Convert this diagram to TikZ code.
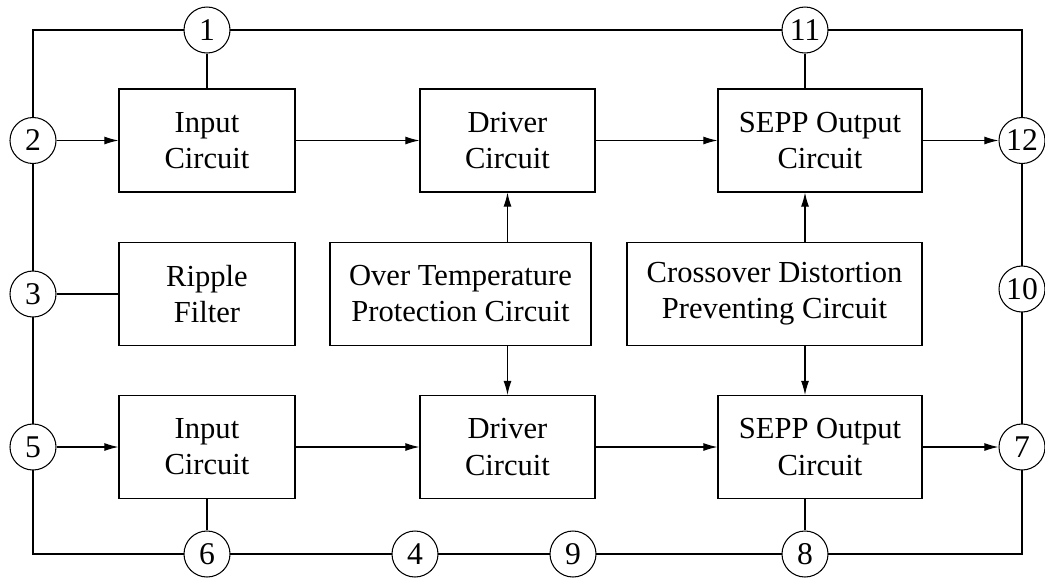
\documentclass[tikz,border=0pt]{standalone}
\usepackage{fontspec}
\setmainfont{Liberation Serif}
\usetikzlibrary{arrows.meta}
\usetikzlibrary{calc}
\tikzset{>={Latex[length=8pt,width=4.5pt]}}
\tikzset{
  block/.style={draw, semithick, align=center, minimum height=2.06cm, inner sep=2pt,
    font=\fontsize{17.4}{20.5}\selectfont},
  terminal/.style={draw, semithick, circle, fill=white, minimum size=0.92cm, inner sep=0pt,
    font=\fontsize{18}{20}\selectfont}
}

\begin{document}
\begin{tikzpicture}
            \useasboundingbox (0, 0) rectangle (20.9, -11.62);
            % outer wiring
            \draw[semithick] (0.66, -0.6) rectangle (20.44, -11.08);
            % blocks
            \node[block, minimum width=3.52cm] (in1) at (4.14, -2.81) {Input\\Circuit};
            \node[block, minimum width=3.5cm] (drv1) at (10.15, -2.81) {Driver\\Circuit};
            \node[block, minimum width=4.08cm] (sepp1) at (16.4, -2.81) {SEPP Output\\Circuit};
            \node[block, minimum width=3.52cm] (rip) at (4.14, -5.88) {Ripple\\Filter};
            \node[block, minimum width=5.22cm] (otp) at (9.21, -5.88) {Over Temperature\\Protection Circuit};
            \node[block, minimum width=5.9cm] (cdp) at (15.49, -5.88) {Crossover Distortion\\Preventing Circuit};
            \node[block, minimum width=3.52cm] (in2) at (4.14, -8.94) {Input\\Circuit};
            \node[block, minimum width=3.5cm] (drv2) at (10.15, -8.94) {Driver\\Circuit};
            \node[block, minimum width=4.08cm] (sepp2) at (16.4, -8.94) {SEPP Output\\Circuit};
            % terminals
            \node[terminal] (t1) at (4.14, -0.6) {1};
            \node[terminal] (t11) at (16.1, -0.6) {11};
            \node[terminal] (t2) at (0.66, -2.81) {2};
            \node[terminal] (t12) at (20.44, -2.81) {12};
            \node[terminal] (t3) at (0.66, -5.88) {3};
            \node[terminal] (t10) at (20.44, -5.78) {10};
            \node[terminal] (t5) at (0.66, -8.94) {5};
            \node[terminal] (t7) at (20.44, -8.94) {7};
            \node[terminal] (t6) at (4.14, -11.08) {6};
            \node[terminal] (t4) at (8.3, -11.08) {4};
            \node[terminal] (t9) at (11.46, -11.08) {9};
            \node[terminal] (t8) at (16.1, -11.08) {8};
            % signal path
            \draw[semithick, ->] (t2) -- (in1);
            \draw[semithick, ->] (in1) -- (drv1);
            \draw[semithick, ->] (drv1) -- (sepp1);
            \draw[semithick, ->] (sepp1) -- (t12);
            \draw[semithick, ->] (t5) -- (in2);
            \draw[semithick, ->] (in2) -- (drv2);
            \draw[semithick, ->] (drv2) -- (sepp2);
            \draw[semithick, ->] (sepp2) -- (t7);
            % supply and ground taps
            \draw[semithick] (t1) -- (in1);
            \draw[semithick] (t6) -- (in2);
            \draw[semithick] (t11) -- (t11 |- sepp1.north);
            \draw[semithick] (t8) -- (t8 |- sepp2.south);
            \draw[semithick] (t3) -- (rip);
            % protection
            \draw[semithick, ->] (otp.north -| drv1) -- (drv1);
            \draw[semithick, ->] (otp.south -| drv2) -- (drv2);
            \draw[semithick, ->] (cdp.north -| t11) -- (sepp1.south -| t11);
            \draw[semithick, ->] (cdp.south -| t8) -- (sepp2.north -| t8);
        \end{tikzpicture}
\end{document}
